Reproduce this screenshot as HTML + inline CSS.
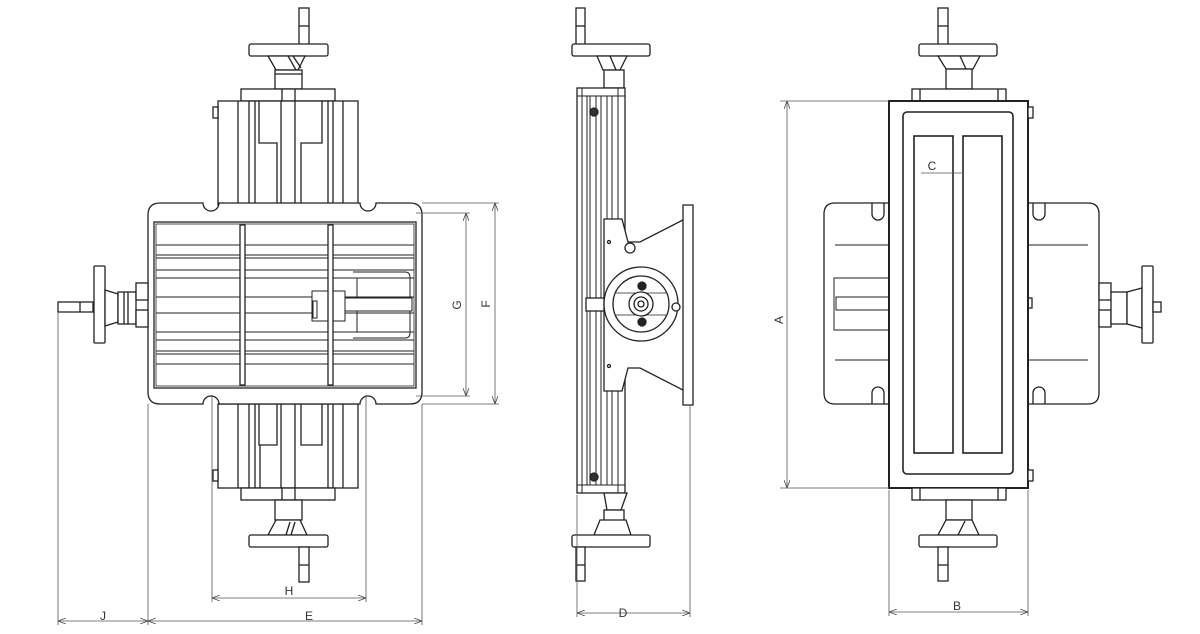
<!DOCTYPE html>
<html><head><meta charset="utf-8"><style>
html,body{margin:0;padding:0;background:#fff;width:1200px;height:634px;overflow:hidden}
svg{display:block}
text{font-family:"Liberation Sans",sans-serif;font-size:12px;fill:#333}
</style></head><body>
<svg width="1200" height="634" viewBox="0 0 1200 634" xmlns="http://www.w3.org/2000/svg">
<defs>
<marker id="ar" markerWidth="8" markerHeight="6" refX="8" refY="3" orient="auto-start-reverse" markerUnits="userSpaceOnUse"><path d="M0,0 L8,3 L0,6" fill="none" stroke="#444" stroke-width="0.8"/></marker>
</defs>
<g fill="#fff" stroke="#222" stroke-width="1.3">
<!-- ===== LEFT VIEW ===== -->
<!-- top handwheel -->
<rect x="299" y="8" width="10" height="37"/>
<line x1="299" y1="26" x2="309" y2="26"/>
<rect x="249" y="44" width="79" height="12" rx="2"/>
<path d="M268,56 L305,56 L298,70 L276,70 Z"/>
<line x1="288" y1="56" x2="296" y2="70"/><line x1="293" y1="56" x2="301" y2="68"/>
<rect x="275" y="70" width="27" height="19"/>
<line x1="275" y1="74" x2="302" y2="74"/>
<rect x="241" y="89" width="94" height="12"/>
<line x1="282" y1="89" x2="282" y2="101"/><line x1="295" y1="89" x2="295" y2="101"/>
<rect x="218" y="101" width="140" height="104"/>
<rect x="213" y="107" width="5" height="11"/>
<g fill="none">
<line x1="238" y1="101" x2="238" y2="205"/><line x1="249" y1="101" x2="249" y2="205"/><line x1="255" y1="101" x2="255" y2="205"/>
<polyline points="259,101 259,143 277,143 277,205"/>
<line x1="281" y1="101" x2="281" y2="205"/><line x1="295" y1="101" x2="295" y2="205"/>
<polyline points="322,101 322,143 301,143 301,205"/>
<line x1="328" y1="101" x2="328" y2="205"/><line x1="333" y1="101" x2="333" y2="205"/><line x1="343" y1="101" x2="343" y2="205"/>
</g>
<!-- bottom carriage -->
<rect x="218" y="404" width="140" height="84"/>
<rect x="213" y="470" width="5" height="11"/>
<g fill="none">
<line x1="238" y1="404" x2="238" y2="488"/><line x1="249" y1="404" x2="249" y2="488"/><line x1="255" y1="404" x2="255" y2="488"/>
<polyline points="259,404 259,445 277,445 277,404"/>
<line x1="260" y1="445" x2="260" y2="488"/>
<line x1="281" y1="404" x2="281" y2="488"/><line x1="295" y1="404" x2="295" y2="488"/>
<polyline points="322,404 322,445 301,445 301,404"/>
<line x1="328" y1="404" x2="328" y2="488"/><line x1="333" y1="404" x2="333" y2="488"/><line x1="343" y1="404" x2="343" y2="488"/>
</g>
<rect x="241" y="488" width="94" height="12"/>
<line x1="282" y1="488" x2="282" y2="500"/><line x1="295" y1="488" x2="295" y2="500"/>
<rect x="275" y="500" width="27" height="20"/>
<path d="M276,520 L300,520 L307,535 L268,535 Z"/>
<line x1="290" y1="522" x2="286" y2="535"/><line x1="295" y1="522" x2="291" y2="535"/>
<rect x="249" y="535" width="79" height="12" rx="2"/>
<rect x="299" y="547" width="10" height="35"/>
<line x1="299" y1="565" x2="309" y2="565"/>
<!-- table -->
<path d="M160,203 L203,203 A8,8 0 0 0 219,203 L360,203 A8,8 0 0 0 376,203 L410,203 Q422,203 422,215 L422,392 Q422,404 410,404 L376,404 A8,8 0 0 0 360,404 L219,404 A8,8 0 0 0 203,404 L160,404 Q148,404 148,392 L148,215 Q148,203 160,203 Z"/>
<rect x="154" y="222" width="262" height="166"/>
<rect x="156" y="224" width="258" height="162" fill="none" stroke-width="0.8"/>
<g fill="none" stroke-width="1">
<line x1="156" y1="245" x2="414" y2="245"/><line x1="156" y1="255" x2="414" y2="255"/><line x1="156" y1="258" x2="414" y2="258"/>
<line x1="156" y1="270" x2="414" y2="270"/><line x1="156" y1="278" x2="414" y2="278"/>
<line x1="156" y1="297" x2="414" y2="297"/><line x1="156" y1="313" x2="414" y2="313"/>
<line x1="156" y1="332" x2="414" y2="332"/><line x1="156" y1="340" x2="414" y2="340"/>
<line x1="156" y1="351" x2="414" y2="351"/><line x1="156" y1="354" x2="414" y2="354"/><line x1="156" y1="364" x2="414" y2="364"/>
<path d="M353,272 L405,272 Q410,272 410,277 L410,333 Q410,338 405,338 L353,338"/>
<line x1="357" y1="278" x2="357" y2="332"/>
<rect x="345" y="298" width="67" height="13" fill="#fff"/>
<rect x="312" y="291" width="33" height="30" fill="#fff"/>
<rect x="313" y="301" width="4" height="17"/>
</g>
<rect x="240" y="225" width="5" height="160"/>
<rect x="328" y="225" width="5" height="160"/>
<!-- left handwheel -->
<rect x="58" y="302" width="35" height="10"/>
<line x1="80" y1="302" x2="80" y2="312"/>
<rect x="94" y="266" width="11" height="77" rx="1"/>
<path d="M105,290 L118,294 L118,322 L105,326 Z"/>
<rect x="118" y="292" width="18" height="32"/>
<line x1="124" y1="292" x2="124" y2="324"/><line x1="128" y1="292" x2="128" y2="324"/>
<rect x="136" y="283" width="12" height="17"/>
<rect x="136" y="310" width="12" height="17"/>
<!-- ===== MIDDLE VIEW ===== -->
<rect x="576" y="8" width="9" height="37"/>
<line x1="576" y1="26" x2="585" y2="26"/>
<rect x="572" y="44" width="78" height="12" rx="2"/>
<path d="M597,56 L627,56 L620,70 L603,70 Z"/>
<line x1="610" y1="56" x2="616" y2="70"/>
<rect x="604" y="70" width="20" height="18"/>
<rect x="577" y="88" width="48" height="405"/>
<g fill="none" stroke-width="1">
<line x1="582" y1="88" x2="582" y2="493"/><line x1="587" y1="96" x2="587" y2="485"/><line x1="590" y1="96" x2="590" y2="485"/>
<line x1="596" y1="96" x2="596" y2="485"/><line x1="601" y1="96" x2="601" y2="485"/><line x1="607" y1="96" x2="607" y2="485"/>
<line x1="612" y1="96" x2="612" y2="485"/><line x1="618" y1="88" x2="618" y2="493"/>
<line x1="577" y1="96" x2="625" y2="96"/><line x1="577" y1="485" x2="625" y2="485"/>
</g>
<circle cx="594" cy="112" r="4" fill="#333"/>
<circle cx="594" cy="477" r="4" fill="#333"/>
<path d="M604,493 L627,493 L621,510 L607,510 Z"/>
<rect x="604" y="510" width="20" height="25"/>
<path d="M600,520 L626,520 L631,535 L594,535 Z"/>
<rect x="572" y="535" width="78" height="12" rx="2"/>
<rect x="576" y="547" width="9" height="34"/>
<line x1="576" y1="565" x2="585" y2="565"/>
<!-- bracket -->
<path d="M604,219 L622,219 L628,242 L640,242 L683,220 L683,205 L693,205 L693,405 L683,405 L683,390 L640,368 L628,368 L622,391 L604,391 Z"/>
<line x1="683" y1="220" x2="683" y2="390"/>
<circle cx="609" cy="242" r="1.5"/><circle cx="609" cy="366" r="1.5"/>
<circle cx="630" cy="248" r="5"/>
<rect x="586" y="298" width="18" height="13"/>
<circle cx="641" cy="304" r="37"/>
<circle cx="641" cy="304" r="28"/>
<line x1="616" y1="293" x2="666" y2="293" stroke-width="0.8"/><line x1="616" y1="315" x2="666" y2="315" stroke-width="0.8"/>
<circle cx="641" cy="304" r="12"/><circle cx="641" cy="304" r="7"/><circle cx="641" cy="304" r="3"/>
<circle cx="642" cy="286" r="4" fill="#222"/><circle cx="642" cy="322" r="4" fill="#222"/>
<circle cx="676" cy="307" r="4"/>
<!-- ===== RIGHT VIEW ===== -->
<rect x="938" y="8" width="10" height="37"/>
<line x1="938" y1="26" x2="948" y2="26"/>
<rect x="919" y="44" width="78" height="12" rx="2"/>
<path d="M938,56 L980,56 L973,69 L946,69 Z"/>
<line x1="960" y1="56" x2="966" y2="69"/>
<rect x="946" y="69" width="26" height="20"/>
<rect x="912" y="89" width="94" height="12"/>
<line x1="920" y1="89" x2="920" y2="101"/><line x1="998" y1="89" x2="998" y2="101"/>
<!-- wings -->
<path d="M889,203 L835,203 Q824,203 824,214 L824,393 Q824,404 835,404 L889,404 Z"/>
<path d="M1028,203 L1088,203 Q1099,203 1099,214 L1099,393 Q1099,404 1088,404 L1028,404 Z"/>
<path d="M872,203 L872,214 A6,6 0 0 0 884,214 L884,203 M872,404 L872,393 A6,6 0 0 1 884,393 L884,404" fill="none"/>
<path d="M1033,203 L1033,214 A6,6 0 0 0 1045,214 L1045,203 M1033,404 L1033,393 A6,6 0 0 1 1045,393 L1045,404" fill="none"/>
<path d="M889,245 L835,245 M889,360 L835,360 M889,278 L834,278 L834,330 L889,330" fill="none" stroke-width="1"/>
<rect x="836" y="297" width="53" height="13" fill="none" stroke-width="1"/>
<path d="M1028,245 L1088,245 M1028,360 L1088,360" fill="none" stroke-width="1"/>
<rect x="1028" y="298" width="4" height="10"/>
<!-- right handwheel -->
<rect x="1099" y="283" width="12" height="17"/><rect x="1099" y="310" width="12" height="17"/>
<rect x="1111" y="292" width="16" height="32"/>
<path d="M1127,292 L1142,288 L1142,328 L1127,324 Z"/>
<rect x="1142" y="266" width="11" height="77" rx="1"/>
<rect x="1153" y="302" width="8" height="10"/>
<!-- body -->
<rect x="889" y="101" width="139" height="387" stroke-width="2"/>
<rect x="903" y="112" width="110" height="362" rx="4" stroke-width="1.6"/>
<rect x="914" y="136" width="39" height="317" stroke-width="1.6"/>
<rect x="963" y="136" width="39" height="317" stroke-width="1.6"/>
<rect x="1028" y="107" width="5" height="11"/><rect x="1028" y="470" width="5" height="11"/>
<rect x="912" y="488" width="94" height="12"/>
<line x1="920" y1="488" x2="920" y2="500"/><line x1="998" y1="488" x2="998" y2="500"/>
<rect x="946" y="500" width="26" height="20"/>
<path d="M946,520 L972,520 L979,535 L938,535 Z"/>
<line x1="965" y1="521" x2="958" y2="535"/>
<rect x="919" y="535" width="78" height="12" rx="2"/>
<rect x="938" y="547" width="10" height="34"/>
<line x1="938" y1="565" x2="948" y2="565"/>
</g>
<!-- dimensions -->
<g fill="none" stroke="#555" stroke-width="0.8">
<line x1="416" y1="213" x2="470" y2="213"/><line x1="416" y1="396" x2="470" y2="396"/>
<line x1="466" y1="213" x2="466" y2="396" marker-start="url(#ar)" marker-end="url(#ar)"/>
<line x1="422" y1="203" x2="499" y2="203"/><line x1="422" y1="404" x2="499" y2="404"/>
<line x1="495" y1="203" x2="495" y2="404" marker-start="url(#ar)" marker-end="url(#ar)"/>
<line x1="212" y1="395" x2="212" y2="602"/><line x1="366" y1="395" x2="366" y2="602"/>
<line x1="212" y1="598" x2="366" y2="598" marker-start="url(#ar)" marker-end="url(#ar)"/>
<line x1="148" y1="404" x2="148" y2="625"/><line x1="422" y1="404" x2="422" y2="625"/>
<line x1="148" y1="621" x2="422" y2="621" marker-start="url(#ar)" marker-end="url(#ar)"/>
<line x1="58" y1="312" x2="58" y2="625"/>
<line x1="58" y1="621" x2="148" y2="621" marker-start="url(#ar)" marker-end="url(#ar)"/>
<line x1="577" y1="495" x2="577" y2="617"/><line x1="690" y1="405" x2="690" y2="617"/>
<line x1="577" y1="613" x2="690" y2="613" marker-start="url(#ar)" marker-end="url(#ar)"/>
<line x1="780" y1="101" x2="889" y2="101"/><line x1="780" y1="488" x2="889" y2="488"/>
<line x1="787" y1="101" x2="787" y2="488" marker-start="url(#ar)" marker-end="url(#ar)"/>
<line x1="889" y1="490" x2="889" y2="616"/><line x1="1028" y1="490" x2="1028" y2="616"/>
<line x1="889" y1="612" x2="1028" y2="612" marker-start="url(#ar)" marker-end="url(#ar)"/>
<line x1="921" y1="173" x2="963" y2="173"/>
</g>
<text x="461" y="305" transform="rotate(-90 461 305)" text-anchor="middle">G</text>
<text x="490" y="304" transform="rotate(-90 490 304)" text-anchor="middle">F</text>
<text x="289" y="595" text-anchor="middle">H</text>
<text x="309" y="620" text-anchor="middle">E</text>
<text x="103" y="620" text-anchor="middle">J</text>
<text x="623" y="617" text-anchor="middle">D</text>
<text x="783" y="320" transform="rotate(-90 783 320)" text-anchor="middle">A</text>
<text x="957" y="610" text-anchor="middle">B</text>
<text x="932" y="170" text-anchor="middle">C</text>
</svg>
</body></html>
